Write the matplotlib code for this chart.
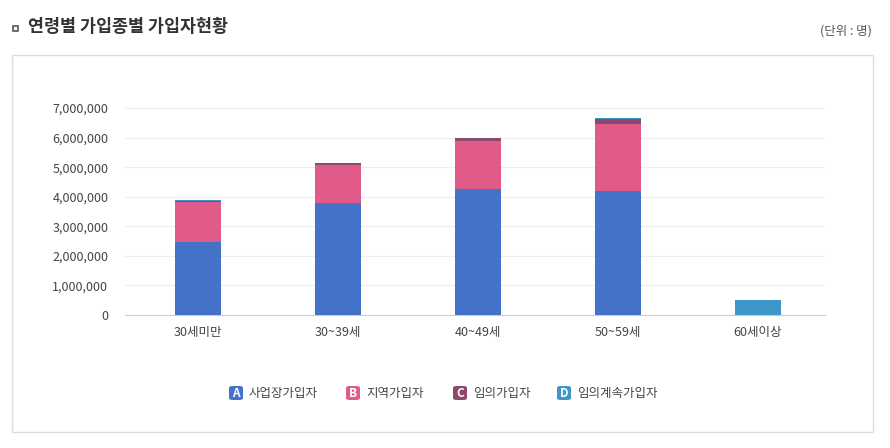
import matplotlib
matplotlib.use("Agg")
import matplotlib.pyplot as plt
from matplotlib.patches import Rectangle, FancyBboxPatch
import numpy as np

plt.rcParams['font.family'] = 'Noto Sans CJK KR'

categories = ["30세미만", "30~39세", "40~49세", "50~59세", "60세이상"]
series_names = ["사업장가입자", "지역가입자", "임의가입자", "임의계속가입자"]
workplace = [2470000, 3790000, 4260000, 4190000, 0]
regional = [1350000, 1280000, 1620000, 2270000, 0]
voluntary = [50000, 60000, 100000, 170000, 0]
continuing = [20000, 10000, 10000, 30000, 510000]
colors = ["#4472c8", "#e05a8a", "#8b4a6b", "#3d98c9"]
letters = ["A", "B", "C", "D"]
yticks = [0, 1000000, 2000000, 3000000, 4000000, 5000000, 6000000, 7000000]

W, H = 890, 448
fig = plt.figure(figsize=(W/100, H/100), dpi=100)
fig.patch.set_facecolor("white")

# panel border
fig.add_artist(Rectangle((12/W, 1-432/H), (873-12)/W, (432-55)/H, transform=fig.transFigure,
                         fill=False, edgecolor="#dddddd", linewidth=1))
fig.add_artist(Rectangle((13/W, 1-31/H), 5/W, 5/H, transform=fig.transFigure,
                         facecolor="white", edgecolor="#555555", linewidth=1.2))
fig.text(28/W, 1-27/H, "연령별 가입종별 가입자현황", fontsize=12.5, fontweight="bold",
         color="#333333", va="center")
fig.text(872/W, 1-31/H, "(단위 : 명)", fontsize=9, color="#555555", va="center", ha="right")

ax = fig.add_axes([125/W, 1-315/H, (825-125)/W, (315-100)/H])
x = np.arange(len(categories))
bottom = np.zeros(len(categories))
for vals, c in zip([workplace, regional, voluntary, continuing], colors):
    ax.bar(x, vals, width=0.33, bottom=bottom, color=c, zorder=3)
    bottom += np.array(vals)

ax.set_xlim(-0.52, 4.48)
ax.set_ylim(0, 7000000 * 215/207)
ax.set_yticks(yticks)
ax.set_yticklabels([f"{v:,}" for v in yticks])
ax.set_xticks(x)
ax.set_xticklabels(categories)
ax.tick_params(length=0, labelsize=9, colors="#444444")
ax.tick_params(axis="y", pad=12)
ax.tick_params(axis="x", pad=8)
ax.grid(axis="y", color="#eeeeee", linewidth=0.8, zorder=0)
for s in ["top", "right", "left"]:
    ax.spines[s].set_visible(False)
ax.spines["bottom"].set_color("#cccccc")

# legend
lx = [229, 346, 453, 557]
for px, name, c, l in zip(lx, series_names, colors, letters):
    fig.add_artist(FancyBboxPatch((px/W, 1-400/H), 14/W, 14/H, transform=fig.transFigure,
                                  boxstyle="round,pad=0,rounding_size=0.004", facecolor=c, edgecolor="none"))
    fig.text((px+7)/W, 1-393/H, l, color="white", fontsize=8.5, fontweight="bold", ha="center", va="center")
    fig.text((px+20)/W, 1-393/H, name, color="#444444", fontsize=9, va="center")

fig.savefig("out.png", dpi=100)
